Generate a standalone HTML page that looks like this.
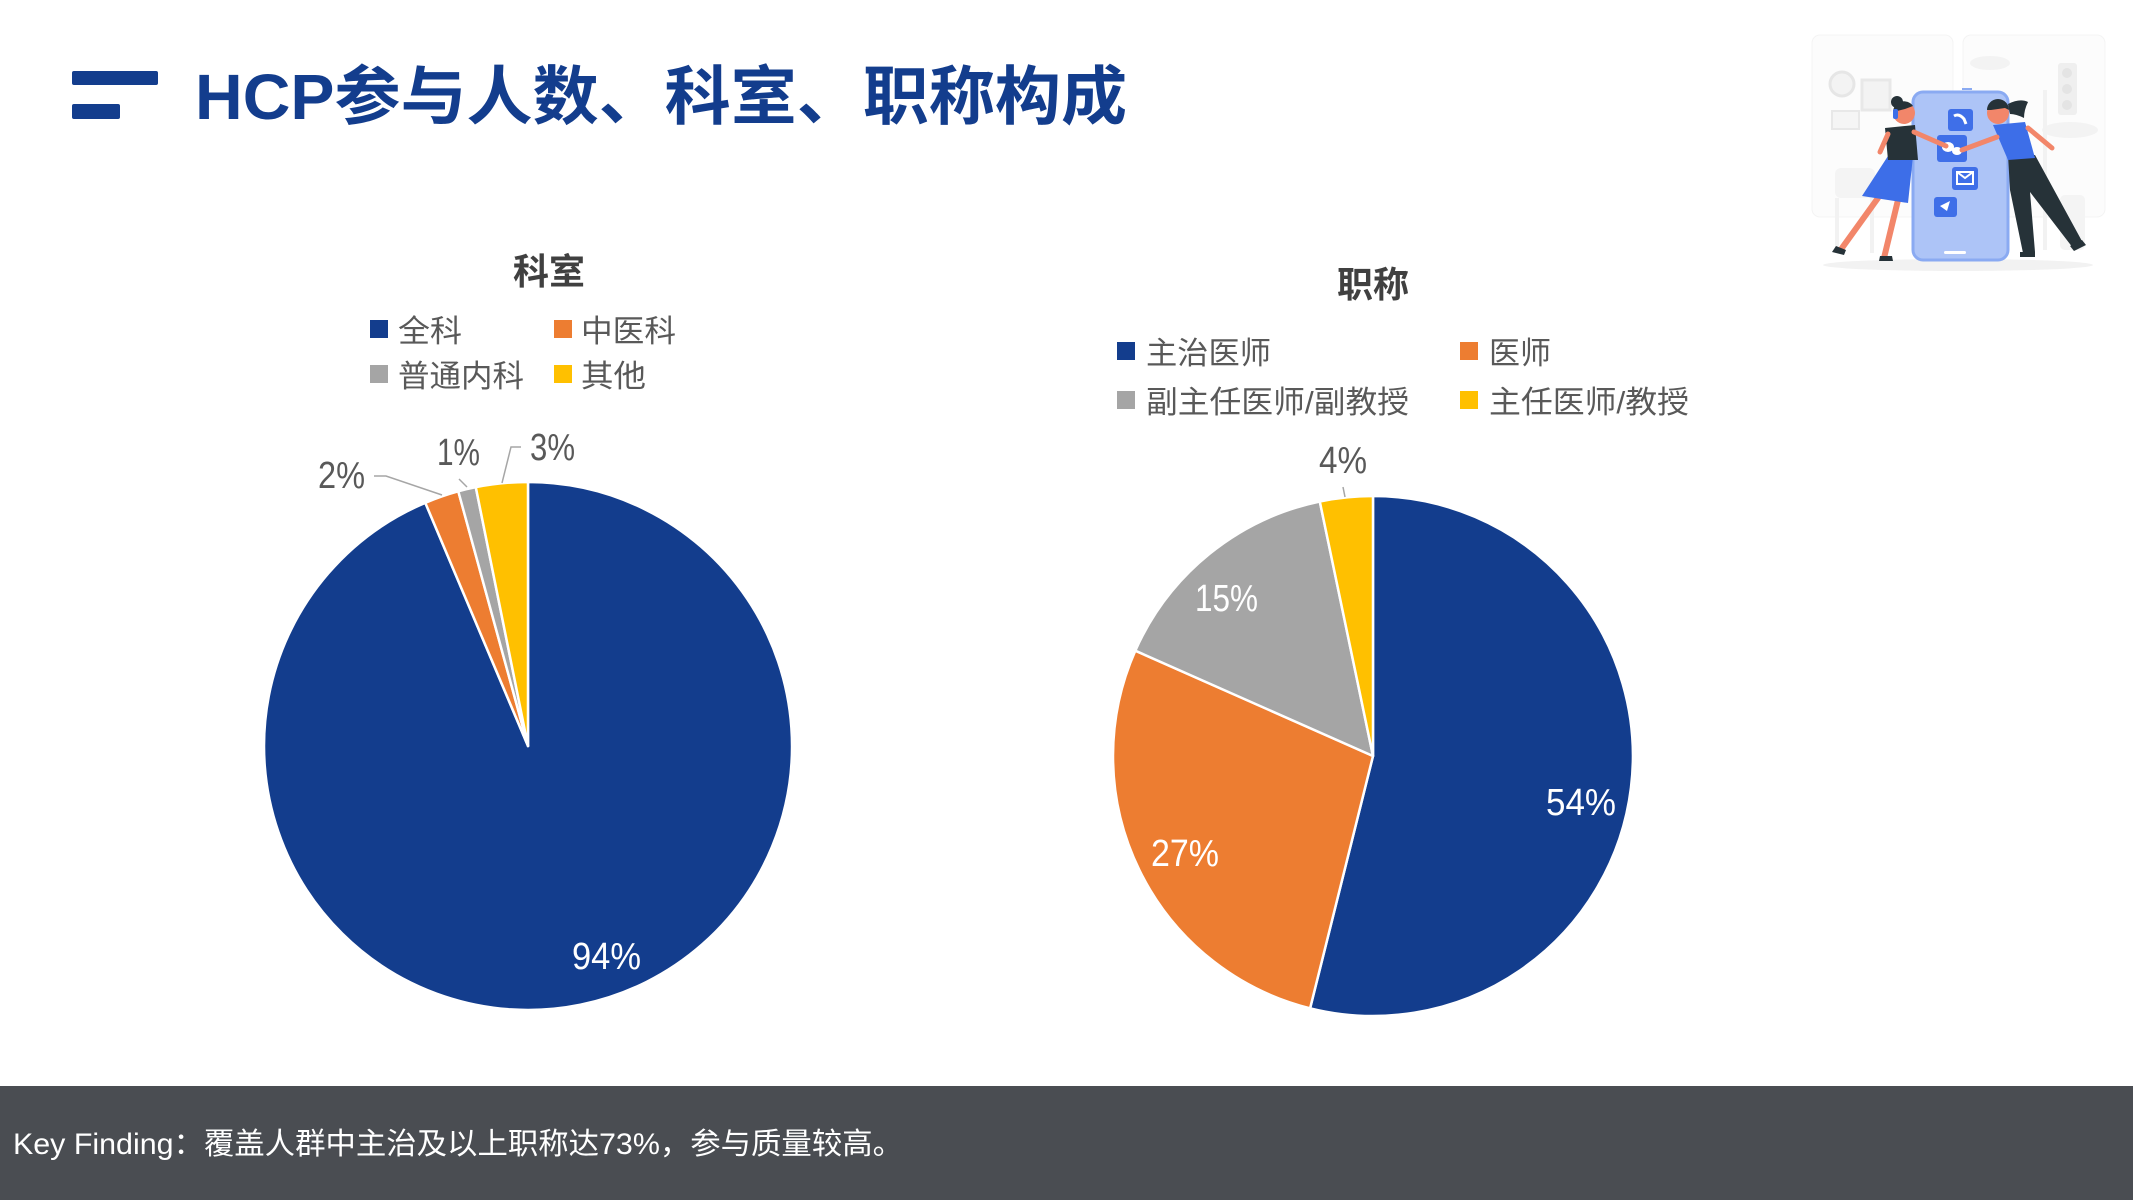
<!DOCTYPE html>
<html>
<head>
<meta charset="utf-8">
<style>
  html, body { margin:0; padding:0; background:#ffffff; }
  body { width:2133px; height:1200px; overflow:hidden; }
  svg { display:block; }
  text { font-family: "Liberation Sans", "Noto Sans CJK SC", sans-serif; }
</style>
</head>
<body>
<svg width="2133" height="1200" viewBox="0 0 2133 1200" xmlns="http://www.w3.org/2000/svg">
  <rect x="0" y="0" width="2133" height="1200" fill="#ffffff"/>

  <!-- Title icon -->
  <rect x="72" y="71" width="86" height="14" rx="2" fill="#133D8D"/>
  <rect x="72" y="104" width="48" height="15" rx="2" fill="#133D8D"/>
  <!-- Title -->
  <text x="195" y="119" font-size="64" font-weight="700" fill="#133D8D" textLength="932" lengthAdjust="spacingAndGlyphs">HCP参与人数、科室、职称构成</text>

  <!-- Illustration -->
  <g>
    <rect x="1812" y="35" width="141" height="182" rx="8" fill="#fcfcfc" stroke="#f4f4f4" stroke-width="1"/>
    <rect x="1963" y="35" width="142" height="182" rx="8" fill="#fcfcfc" stroke="#f4f4f4" stroke-width="1"/>
    <circle cx="1842" cy="84" r="12" fill="#f3f3f3" stroke="#e6e6e6" stroke-width="3"/>
    <rect x="1862" y="80" width="28" height="30" fill="#f3f3f3" stroke="#e8e8e8" stroke-width="3"/>
    <rect x="1832" y="111" width="27" height="18" fill="#f5f5f5" stroke="#e8e8e8" stroke-width="2"/>
    <ellipse cx="1990" cy="63" rx="20" ry="7" fill="#f3f3f3"/>
    <ellipse cx="2070" cy="130" rx="28" ry="8" fill="#f3f3f3"/>
    <rect x="2058" y="63" width="19" height="52" rx="3" fill="#efefef"/>
    <circle cx="2067" cy="73" r="5" fill="#e4e4e4"/>
    <circle cx="2067" cy="89" r="5" fill="#e4e4e4"/>
    <circle cx="2067" cy="105" r="5" fill="#e4e4e4"/>
    <rect x="2043" y="90" width="4" height="160" fill="#f2f2f2"/>
    <rect x="1835" y="168" width="40" height="30" rx="6" fill="#f4f4f4"/>
    <rect x="1835" y="198" width="4" height="55" fill="#f2f2f2"/>
    <rect x="1870" y="198" width="4" height="55" fill="#f2f2f2"/>
    <rect x="2060" y="195" width="25" height="55" rx="5" fill="#f4f4f4"/>
    <ellipse cx="1958" cy="265" rx="135" ry="6" fill="#f2f2f2"/>
    <!-- phone -->
    <rect x="1913" y="92" width="95" height="168" rx="10" fill="#adc4f7" stroke="#8aaaf2" stroke-width="3"/>
    <rect x="1962" y="88" width="10" height="2" fill="#8aaaf2"/>
    <rect x="1944" y="251" width="22" height="3" rx="1.5" fill="#ffffff"/>
    <rect x="1948" y="109" width="25" height="22" rx="3" fill="#3f6fe8"/>
    <path d="M1954 116 q5 -3 10 3 l2 5" stroke="#fff" stroke-width="3" fill="none"/>
    <rect x="1937" y="135" width="30" height="27" rx="3" fill="#3f6fe8"/>
    <ellipse cx="1948" cy="147" rx="6" ry="5" fill="#fff"/>
    <ellipse cx="1957" cy="151" rx="5" ry="4" fill="#fff"/>
    <rect x="1952" y="167" width="26" height="23" rx="3" fill="#3f6fe8"/>
    <rect x="1957" y="172" width="16" height="12" fill="none" stroke="#fff" stroke-width="2"/>
    <path d="M1957 172 l8 6 l8 -6" stroke="#fff" stroke-width="2" fill="none"/>
    <rect x="1934" y="197" width="23" height="20" rx="3" fill="#3f6fe8"/>
    <path d="M1940 206 l10 -5 l-3 10 z" fill="#fff"/>
    <!-- woman -->
    <line x1="1878" y1="198" x2="1842" y2="248" stroke="#f2866a" stroke-width="6" stroke-linecap="round"/>
    <line x1="1898" y1="200" x2="1884" y2="258" stroke="#f2866a" stroke-width="6" stroke-linecap="round"/>
    <path d="M1836 246 l10 4 l-2 5 l-12 -3 z" fill="#263238"/>
    <path d="M1880 256 l12 0 l1 5 l-14 0 z" fill="#263238"/>
    <polygon points="1888,156 1913,156 1908,203 1862,196" fill="#3d6ee8"/>
    <polygon points="1885,128 1915,125 1918,160 1888,160" fill="#263238"/>
    <line x1="1914" y1="132" x2="1946" y2="146" stroke="#f2866a" stroke-width="5" stroke-linecap="round"/>
    <line x1="1888" y1="134" x2="1880" y2="152" stroke="#f2866a" stroke-width="5" stroke-linecap="round"/>
    <circle cx="1904" cy="113" r="11" fill="#f2866a"/>
    <path d="M1893 112 a11 11 0 0 1 20 -6 l-8 3 z" fill="#263238"/>
    <circle cx="1897" cy="102" r="6" fill="#263238"/>
    <rect x="1893" y="109" width="5" height="10" rx="2" fill="#3d6ee8"/>
    <!-- man -->
    <polygon points="2008,155 2035,155 2083,243 2073,248 2030,192 2035,252 2023,253 2010,190" fill="#263238"/>
    <path d="M2070 246 l12 -6 l4 5 l-12 6 z" fill="#263238"/>
    <path d="M2020 252 l15 0 l0 5 l-15 0 z" fill="#263238"/>
    <polygon points="1993,125 2025,122 2035,158 2008,160" fill="#3d6ee8"/>
    <line x1="1997" y1="137" x2="1962" y2="150" stroke="#f2866a" stroke-width="5" stroke-linecap="round"/>
    <line x1="2028" y1="128" x2="2052" y2="148" stroke="#f2866a" stroke-width="5" stroke-linecap="round"/>
    <circle cx="1998" cy="113" r="11" fill="#f2866a"/>
    <path d="M1987 110 a11 11 0 0 1 22 0 l-4 -2 l-14 2 z" fill="#263238"/>
    <path d="M2008 104 q12 -6 20 -2 q-4 8 -4 16 q-8 -4 -14 -4 z" fill="#263238"/>
  </g>

  <!-- Left chart -->
  <text x="549" y="284" font-size="36" font-weight="700" fill="#404040" text-anchor="middle">科室</text>
  <rect x="370" y="320" width="18" height="18" fill="#133D8D"/>
  <text x="398" y="342" font-size="31" fill="#595959" textLength="64" lengthAdjust="spacingAndGlyphs">全科</text>
  <rect x="554" y="320" width="18" height="18" fill="#ED7D31"/>
  <text x="581" y="342" font-size="31" fill="#595959" textLength="95" lengthAdjust="spacingAndGlyphs">中医科</text>
  <rect x="370" y="365" width="18" height="18" fill="#A5A5A5"/>
  <text x="398" y="387" font-size="31" fill="#595959" textLength="126" lengthAdjust="spacingAndGlyphs">普通内科</text>
  <rect x="554" y="365" width="18" height="18" fill="#FFC000"/>
  <text x="581" y="387" font-size="31" fill="#595959" textLength="65" lengthAdjust="spacingAndGlyphs">其他</text>

  <g stroke="#ffffff" stroke-width="2.5" stroke-linejoin="round">
    <path d="M528,746 L528,482 A264,264 0 1 1 425.3,502.8 Z" fill="#133D8D"/>
    <path d="M528,746 L425.3,502.8 A264,264 0 0 1 458.3,491.3 Z" fill="#ED7D31"/>
    <path d="M528,746 L458.3,491.3 A264,264 0 0 1 475.8,487.2 Z" fill="#A5A5A5"/>
    <path d="M528,746 L475.8,487.2 A264,264 0 0 1 528,482 Z" fill="#FFC000"/>
  </g>
  <g stroke="#A6A6A6" stroke-width="1.5" fill="none">
    <polyline points="374,476 386,476 442,495"/>
    <polyline points="459,479 467,487"/>
    <polyline points="521,447 511,447 502,483"/>
  </g>
  <g font-size="38" fill="#595959">
    <text x="318" y="488" textLength="47" lengthAdjust="spacingAndGlyphs">2%</text>
    <text x="437" y="465" textLength="43" lengthAdjust="spacingAndGlyphs">1%</text>
    <text x="530" y="460" textLength="45" lengthAdjust="spacingAndGlyphs">3%</text>
  </g>
  <text x="572" y="969" font-size="38" fill="#ffffff" textLength="69" lengthAdjust="spacingAndGlyphs">94%</text>

  <!-- Right chart -->
  <text x="1373" y="297" font-size="36" font-weight="700" fill="#404040" text-anchor="middle">职称</text>
  <rect x="1117" y="342" width="18" height="18" fill="#133D8D"/>
  <text x="1146" y="364" font-size="31" fill="#595959" textLength="125" lengthAdjust="spacingAndGlyphs">主治医师</text>
  <rect x="1460" y="342" width="18" height="18" fill="#ED7D31"/>
  <text x="1489" y="364" font-size="31" fill="#595959" textLength="62" lengthAdjust="spacingAndGlyphs">医师</text>
  <rect x="1117" y="391" width="18" height="18" fill="#A5A5A5"/>
  <text x="1146" y="413" font-size="31" fill="#595959" textLength="263" lengthAdjust="spacingAndGlyphs">副主任医师/副教授</text>
  <rect x="1460" y="391" width="18" height="18" fill="#FFC000"/>
  <text x="1489" y="413" font-size="31" fill="#595959" textLength="200" lengthAdjust="spacingAndGlyphs">主任医师/教授</text>

  <g stroke="#ffffff" stroke-width="2.5" stroke-linejoin="round">
    <path d="M1373,756 L1373,496 A260,260 0 1 1 1310.1,1008.3 Z" fill="#133D8D"/>
    <path d="M1373,756 L1310.1,1008.3 A260,260 0 0 1 1135.3,650.7 Z" fill="#ED7D31"/>
    <path d="M1373,756 L1135.3,650.7 A260,260 0 0 1 1319.8,501.5 Z" fill="#A5A5A5"/>
    <path d="M1373,756 L1319.8,501.5 A260,260 0 0 1 1373,496 Z" fill="#FFC000"/>
  </g>
  <line x1="1343" y1="487" x2="1345" y2="497" stroke="#A6A6A6" stroke-width="1.5"/>
  <text x="1319" y="473" font-size="38" fill="#595959" textLength="48" lengthAdjust="spacingAndGlyphs">4%</text>
  <g font-size="38" fill="#ffffff">
    <text x="1546" y="815" textLength="70" lengthAdjust="spacingAndGlyphs">54%</text>
    <text x="1151" y="866" textLength="68" lengthAdjust="spacingAndGlyphs">27%</text>
    <text x="1195" y="611" textLength="63" lengthAdjust="spacingAndGlyphs">15%</text>
  </g>

  <!-- Bottom bar -->
  <rect x="0" y="1086" width="2133" height="114" fill="#4A4D52"/>
  <text x="13" y="1154" font-size="30" fill="#ffffff" textLength="890" lengthAdjust="spacingAndGlyphs">Key Finding：覆盖人群中主治及以上职称达73%，参与质量较高。</text>
</svg>
</body>
</html>
